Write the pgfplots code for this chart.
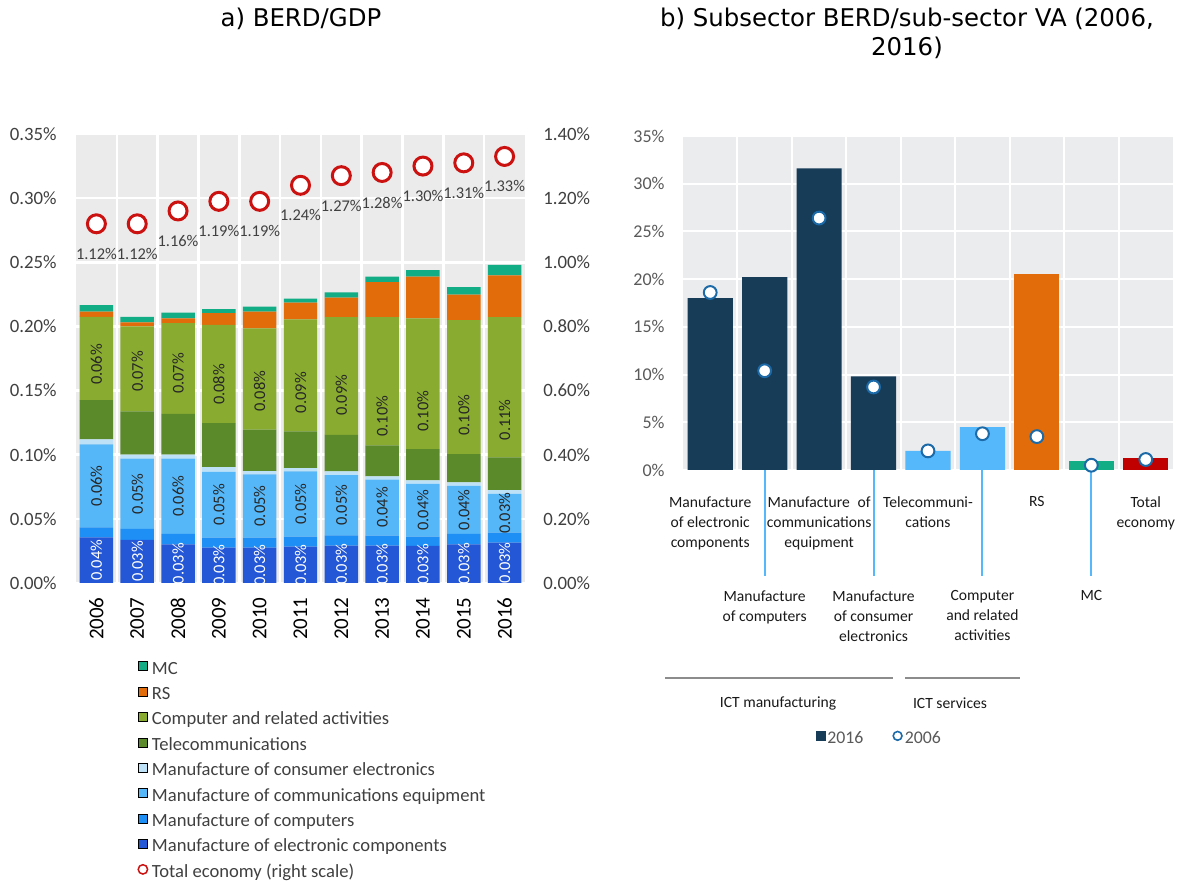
\documentclass[border=0pt]{standalone}
\usepackage{pgfplots}
\usepackage{pgfplotstable}
\pgfplotsset{compat=1.18}
\usepackage{fontspec}
\setmainfont{Carlito}
\newfontfamily\titlefont{DejaVu Sans}
\definecolor{cElec}{HTML}{2457D6}
\definecolor{cComp}{HTML}{1E8FF5}
\definecolor{cComm}{HTML}{55B7F8}
\definecolor{cCons}{HTML}{BDE2F8}
\definecolor{cTel}{HTML}{5B8A2A}
\definecolor{cCrel}{HTML}{88AB30}
\definecolor{cRS}{HTML}{E26B0A}
\definecolor{cMC}{HTML}{12AD85}
\definecolor{cTot}{HTML}{CC1111}
\definecolor{bgL}{HTML}{EBEBEB}
\definecolor{bgR}{HTML}{EBECEE}
\definecolor{navy}{HTML}{163C58}
\definecolor{lblue}{HTML}{55B8FA}
\definecolor{tred}{HTML}{C00000}
\definecolor{cBlue}{HTML}{1C6BA8}
\definecolor{tgray}{HTML}{404040}
\definecolor{rgray}{HTML}{595959}
\definecolor{lgray}{HTML}{8C8C8C}

\pgfplotstableread{
x elec comp comm cons tel crel rs mc tot
0 0.0356 0.0078 0.0646 0.0039 0.0307 0.0649 0.0040 0.0051 1.12
1 0.0336 0.0085 0.0549 0.0031 0.0337 0.0662 0.0031 0.0044 1.12
2 0.0302 0.0081 0.0586 0.0031 0.0318 0.0708 0.0037 0.0044 1.16
3 0.0276 0.0078 0.0513 0.0037 0.0343 0.0766 0.0091 0.0031 1.19
4 0.0276 0.0078 0.0492 0.0026 0.0323 0.0789 0.0131 0.0039 1.19
5 0.0284 0.0078 0.0508 0.0026 0.0286 0.0873 0.0130 0.0031 1.24
6 0.0292 0.0080 0.0469 0.0029 0.0284 0.0919 0.0151 0.0042 1.27
7 0.0292 0.0078 0.0435 0.0026 0.0242 0.1000 0.0273 0.0042 1.28
8 0.0290 0.0072 0.0411 0.0026 0.0245 0.1019 0.0325 0.0050 1.30
9 0.0302 0.0081 0.0375 0.0026 0.0221 0.1045 0.0197 0.0060 1.31
10 0.0315 0.0078 0.0302 0.0029 0.0255 0.1094 0.0325 0.0081 1.33
}\berd

\pgfplotstableread{
x y lab
0 0.0178 0.04
1 0.0168 0.03
2 0.0151 0.03
3 0.0138 0.03
4 0.0138 0.03
5 0.0142 0.03
6 0.0146 0.03
7 0.0146 0.03
8 0.0145 0.03
9 0.0151 0.03
10 0.0158 0.03
}\labElec

\pgfplotstableread{
x y lab
0 0.0757 0.06
1 0.0696 0.05
2 0.0676 0.06
3 0.0611 0.05
4 0.0600 0.05
5 0.0616 0.05
6 0.0607 0.05
7 0.0588 0.04
8 0.0568 0.04
9 0.0571 0.04
10 0.0544 0.03
}\labComm

\pgfplotstableread{
x y lab
0 0.1703 0.06
1 0.1648 0.07
2 0.1633 0.07
3 0.1547 0.08
4 0.1495 0.08
5 0.1484 0.09
6 0.1463 0.09
7 0.1300 0.10
8 0.1340 0.10
9 0.1307 0.10
10 0.1273 0.11
}\labCrel

\pgfplotsset{
  sqimg/.style={legend image code/.code={\fill[#1] (0pt,-0.8pt) rectangle (4.5pt,3.7pt);}},
}

\begin{document}
\begin{tikzpicture}
\path[use as bounding box] (0pt,0pt) rectangle (590pt,-443pt);

% titles
\node[font=\titlefont\fontsize{12.2}{14.5}\selectfont, text=black] at (150.5pt,-9.5pt) {a) BERD/GDP};
\node[font=\titlefont\fontsize{12.2}{14.5}\selectfont, text=black, align=center] at (453.5pt,-16.5pt) {b) Subsector BERD/sub-sector VA (2006,\\2016)};

% ---------- left chart: stacked bars ----------
\begin{axis}[
  at={(38pt,-291.5pt)}, anchor=south west,
  scale only axis, width=224.5pt, height=224.5pt,
  xmin=-0.5, xmax=10.5, ymin=0, ymax=0.35,
  ybar stacked, bar width=0.82,
  axis background/.style={fill=bgL},
  axis line style={draw=none},
  xtick={0,1,2,3,4,5,6,7,8,9,10},
  xticklabels={2006,2007,2008,2009,2010,2011,2012,2013,2014,2015,2016},
  xticklabel style={rotate=90, anchor=east, inner sep=0pt, font=\fontsize{10.5}{12}\selectfont, text=black},
  xticklabel shift=7pt,
  minor xtick={0.5,1.5,2.5,3.5,4.5,5.5,6.5,7.5,8.5,9.5},
  xminorgrids, minor grid style={white, line width=1.3pt},
  ytick={0,0.05,0.1,0.15,0.2,0.25,0.3,0.35},
  ymajorgrids, major grid style={white, line width=1.3pt},
  yticklabel={\pgfmathprintnumber[fixed,fixed zerofill,precision=2]{\tick}\%},
  yticklabel style={anchor=east, inner sep=0pt, font=\fontsize{9.4}{11}\selectfont, text=tgray},
  yticklabel shift=9.5pt,
  major tick length=0pt, minor tick length=0pt,
  /pgf/number format/assume math mode=true,
  legend style={at={(0.136,-0.171)}, anchor=north west, draw=none, fill=none, inner sep=0pt,
    font=\fontsize{9.3}{11}\selectfont, row sep=3.7pt,
    nodes={inner sep=0pt, text height=7pt, text depth=2pt, text=tgray},
    /tikz/every odd column/.append style={column sep=1.8pt}},
  legend cell align=left,
]
\addlegendimage{sqimg, fill=cMC}
\addlegendentry{MC}
\addlegendimage{sqimg, fill=cRS}
\addlegendentry{RS}
\addlegendimage{sqimg, fill=cCrel}
\addlegendentry{Computer and related activities}
\addlegendimage{sqimg, fill=cTel}
\addlegendentry{Telecommunications}
\addlegendimage{sqimg, fill=cCons}
\addlegendentry{Manufacture of consumer electronics}
\addlegendimage{sqimg, fill=cComm}
\addlegendentry{Manufacture of communications equipment}
\addlegendimage{sqimg, fill=cComp}
\addlegendentry{Manufacture of computers}
\addlegendimage{sqimg, fill=cElec}
\addlegendentry{Manufacture of electronic components}
\addlegendimage{legend image code/.code={\draw[cTot, line width=0.75pt, fill=white] (2.3pt,1.5pt) circle (2.35pt);}}
\addlegendentry{Total economy (right scale)}
\addplot[fill=cElec, draw=none] table[x=x,y=elec]{\berd};
\addplot[fill=cComp, draw=none] table[x=x,y=comp]{\berd};
\addplot[fill=cComm, draw=none] table[x=x,y=comm]{\berd};
\addplot[fill=cCons, draw=none] table[x=x,y=cons]{\berd};
\addplot[fill=cTel, draw=none] table[x=x,y=tel]{\berd};
\addplot[fill=cCrel, draw=none] table[x=x,y=crel]{\berd};
\addplot[fill=cRS, draw=none] table[x=x,y=rs]{\berd};
\addplot[fill=cMC, draw=none] table[x=x,y=mc]{\berd};
\end{axis}

% bar value labels
\begin{axis}[
  at={(38pt,-291.5pt)}, anchor=south west,
  scale only axis, width=224.5pt, height=224.5pt,
  xmin=-0.5, xmax=10.5, ymin=0, ymax=0.35,
  hide axis,
]
\addplot[draw=none, mark=none, point meta=explicit symbolic,
  nodes near coords={\pgfplotspointmeta\%},
  every node near coord/.append style={rotate=90, anchor=center, inner sep=0pt, font=\fontsize{8.2}{10}\selectfont, text=white}]
  table[x=x,y=y,meta=lab]{\labElec};
\addplot[draw=none, mark=none, point meta=explicit symbolic,
  nodes near coords={\pgfplotspointmeta\%},
  every node near coord/.append style={rotate=90, anchor=center, inner sep=0pt, font=\fontsize{8.2}{10}\selectfont, text=black!85}]
  table[x=x,y=y,meta=lab]{\labComm};
\addplot[draw=none, mark=none, point meta=explicit symbolic,
  nodes near coords={\pgfplotspointmeta\%},
  every node near coord/.append style={rotate=90, anchor=center, inner sep=0pt, font=\fontsize{8.2}{10}\selectfont, text=black!85}]
  table[x=x,y=y,meta=lab]{\labCrel};
\end{axis}

% right scale: total economy
\begin{axis}[
  at={(38pt,-291.5pt)}, anchor=south west,
  scale only axis, width=224.5pt, height=224.5pt,
  xmin=-0.5, xmax=10.5, ymin=0, ymax=1.4,
  hide x axis, axis y line*=right, axis line style={draw=none},
  major tick length=0pt,
  ytick={0,0.2,0.4,0.6,0.8,1.0,1.2,1.4},
  yticklabel={\pgfmathprintnumber[fixed,fixed zerofill,precision=2]{\tick}\%},
  yticklabel style={anchor=west, inner sep=0pt, font=\fontsize{9.4}{11}\selectfont, text=tgray},
  yticklabel shift=9pt,
  /pgf/number format/assume math mode=true,
  clip=false,
]
\addplot[only marks, mark=*, mark size=4.5pt, mark options={draw=cTot, fill=white, line width=1.5pt},
  nodes near coords={\pgfmathprintnumber[fixed,fixed zerofill,precision=2]{\pgfplotspointmeta}\%},
  every node near coord/.append style={anchor=center, yshift=-15pt, inner sep=0pt, font=\fontsize{8.2}{10}\selectfont, text=tgray}]
  table[x=x,y=tot]{\berd};
\end{axis}

% ---------- right chart ----------
\begin{axis}[
  at={(341.5pt,-235pt)}, anchor=south west,
  scale only axis, width=245pt, height=167pt,
  xmin=-0.5, xmax=8.5, ymin=0, ymax=35,
  axis background/.style={fill=bgR},
  axis line style={draw=none},
  ytick={0,5,10,15,20,25,30,35},
  yticklabel={\pgfmathprintnumber{\tick}\%},
  yticklabel style={anchor=east, inner sep=0pt, font=\fontsize{9}{11}\selectfont, text=rgray},
  yticklabel shift=9pt,
  ymajorgrids, major grid style={white, line width=1pt},
  minor xtick={0.5,1.5,2.5,3.5,4.5,5.5,6.5,7.5},
  xminorgrids, minor grid style={white, line width=1pt},
  major tick length=0pt, minor tick length=0pt,
  xtick pos=left,
  xtick={0,2,4,6,8},
  xticklabels={{Manufacture\\of electronic\\components},{Manufacture\enspace of\\communications\\equipment},{Telecommuni-\\cations},{RS},{Total\\economy}},
  xticklabel style={align=center, anchor=north, inner sep=0pt, font=\fontsize{7.8}{10}\selectfont, text=black!90},
  xticklabel shift=13pt,
  extra x ticks={1,3,5,7},
  extra x tick labels={{Manufacture\\of computers},{Manufacture\\of consumer\\electronics},{Computer\\and related\\activities},{MC}},
  extra x tick style={major tick length=53pt, tick align=outside,
    tick style={draw=lblue, line width=1pt},
    tick label style={yshift=6pt}},
  /pgf/number format/assume math mode=true,
  legend columns=2,
  legend style={at={(0.399,-0.805)}, anchor=center, draw=none, fill=none, inner sep=0pt,
    font=\fontsize{8.9}{11}\selectfont,
    nodes={inner sep=0pt, text height=7pt, text depth=2pt, text=rgray},
    /tikz/every odd column/.append style={column sep=1pt},
    /tikz/every even column/.append style={column sep=14.5pt}},
]
\addlegendimage{legend image code/.code={\fill[navy] (0pt,-0.6pt) rectangle (4.2pt,3.6pt);}}
\addlegendentry{2016}
\addlegendimage{legend image code/.code={\draw[cBlue, line width=0.8pt, fill=white] (2.4pt,1.5pt) circle (2.2pt);}}
\addlegendentry{2006}
\addplot[ybar, bar width=0.83, bar shift=0pt, fill=navy, draw=none] coordinates {(0,18.0) (1,20.2) (2,31.6) (3,9.8)};
\addplot[ybar, bar width=0.83, bar shift=0pt, fill=lblue, draw=none] coordinates {(4,2.0) (5,4.5)};
\addplot[ybar, bar width=0.83, bar shift=0pt, fill=cRS, draw=none] coordinates {(6,20.5)};
\addplot[ybar, bar width=0.83, bar shift=0pt, fill=cMC, draw=none] coordinates {(7,0.97)};
\addplot[ybar, bar width=0.83, bar shift=0pt, fill=tred, draw=none] coordinates {(8,1.3)};
\addplot[only marks, mark=*, mark size=3.2pt, mark options={draw=cBlue, fill=white, line width=1pt}]
  coordinates {(0,18.6) (1,10.4) (2,26.4) (3,8.7) (4,2.0) (5,3.8) (6,3.5) (7,0.5) (8,1.1)};
\end{axis}

% group annotations
\draw[lgray, line width=0.9pt] (332.5pt,-339pt) -- (446.5pt,-339pt);
\draw[lgray, line width=0.9pt] (452.5pt,-339pt) -- (510pt,-339pt);
\node[font=\fontsize{7.8}{10}\selectfont, text=black!90] at (389pt,-351.5pt) {ICT manufacturing};
\node[font=\fontsize{7.8}{10}\selectfont, text=black!90] at (475pt,-351.5pt) {ICT services};
\end{tikzpicture}
\end{document}
